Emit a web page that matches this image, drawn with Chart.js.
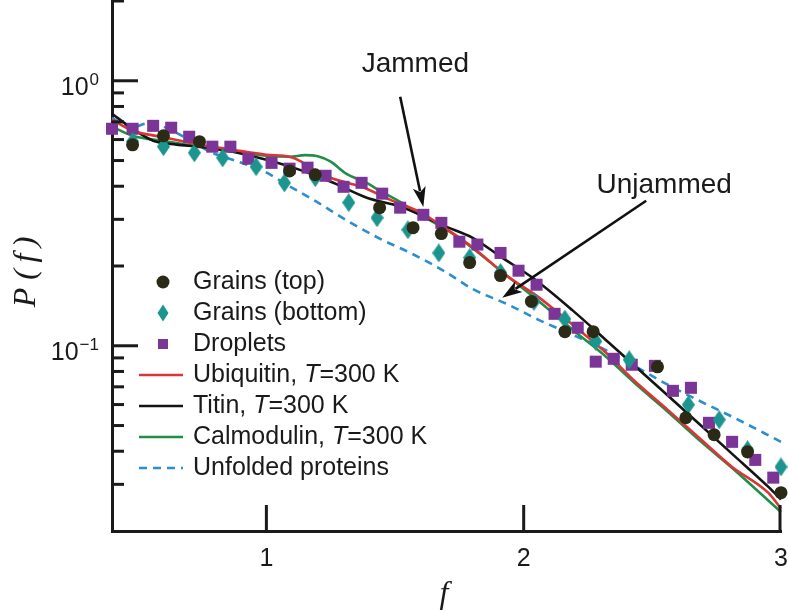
<!DOCTYPE html>
<html>
<head>
<meta charset="utf-8">
<script src="https://cdn.jsdelivr.net/npm/chart.js@4.4.1/dist/chart.umd.min.js"></script>
<style>
  body { margin: 0; background: #fff; }
  canvas { display: block; }
</style>
</head>
<body>
<canvas id="myChart" width="788" height="610"></canvas>
<script>
// values, f and P(f)
const xTicks = [1, 2, 3]
const yMajorTicks = [0.1, 1]
const yMajorExp = ['\u22121', '0']
const yMinorTicks = [0.03, 0.04, 0.05, 0.06, 0.07, 0.08, 0.09, 0.2, 0.3, 0.4, 0.5, 0.6, 0.7, 0.8, 0.9, 2]

const grainsTopF = [0.48, 0.60, 0.74, 1.09, 1.19, 1.44, 1.57, 1.68, 1.79, 1.91, 2.03, 2.16, 2.27, 2.52, 2.63, 2.74, 2.87, 3.0]
const grainsTopP = [0.573, 0.620, 0.589, 0.457, 0.442, 0.332, 0.279, 0.265, 0.206, 0.184, 0.147, 0.113, 0.113, 0.0833, 0.0535, 0.0462, 0.0398, 0.0279]

const grainsBottomF = [0.48, 0.60, 0.72, 0.83, 0.96, 1.07, 1.19, 1.32, 1.43, 1.55, 1.67, 1.79, 1.91, 2.04, 2.16, 2.28, 2.41, 2.64, 2.76, 2.87, 3.0]
const grainsBottomP = [0.589, 0.564, 0.535, 0.512, 0.474, 0.412, 0.431, 0.347, 0.304, 0.274, 0.224, 0.215, 0.189, 0.147, 0.126, 0.104, 0.0886, 0.0599, 0.0526, 0.0405, 0.0349]

const dropletsF = [0.40, 0.48, 0.56, 0.63, 0.70, 0.79, 0.86, 0.93, 1.02, 1.09, 1.16, 1.23, 1.30, 1.37, 1.45, 1.52, 1.61, 1.68, 1.75, 1.82, 1.91, 1.98, 2.05, 2.12, 2.21, 2.28, 2.35, 2.42, 2.51, 2.58, 2.65, 2.72, 2.81, 2.90, 2.97]
const dropletsP = [0.659, 0.659, 0.676, 0.665, 0.615, 0.564, 0.564, 0.508, 0.490, 0.466, 0.470, 0.438, 0.398, 0.412, 0.375, 0.332, 0.312, 0.291, 0.247, 0.241, 0.224, 0.192, 0.170, 0.132, 0.117, 0.0871, 0.0893, 0.0848, 0.0840, 0.0676, 0.0694, 0.0512, 0.0434, 0.0371, 0.0318]

const ubiquitinF = [0.40, 0.48, 0.59, 0.74, 0.87, 1.00, 1.09, 1.13, 1.19, 1.26, 1.37, 1.48, 1.60, 1.68, 1.80, 1.94, 2.06, 2.19, 2.32, 2.43, 2.56, 2.69, 2.81, 2.95, 3.0]
const ubiquitinP = [0.713, 0.648, 0.615, 0.574, 0.549, 0.526, 0.517, 0.499, 0.457, 0.427, 0.398, 0.356, 0.318, 0.284, 0.236, 0.182, 0.152, 0.120, 0.0941, 0.0738, 0.0573, 0.0442, 0.0349, 0.0279, 0.0243]

const titinF = [0.40, 0.48, 0.56, 0.65, 0.74, 0.87, 1.00, 1.13, 1.26, 1.39, 1.52, 1.70, 1.80, 1.91, 2.04, 2.19, 2.32, 2.43, 2.56, 2.69, 2.81, 2.95, 3.0]
const titinP = [0.751, 0.659, 0.594, 0.574, 0.564, 0.540, 0.503, 0.461, 0.412, 0.362, 0.335, 0.281, 0.256, 0.217, 0.179, 0.136, 0.105, 0.0843, 0.0649, 0.0499, 0.0391, 0.0294, 0.0263]

const calmodulinF = [0.40, 0.48, 0.62, 0.74, 0.87, 1.00, 1.09, 1.15, 1.20, 1.25, 1.31, 1.39, 1.44, 1.52, 1.57, 1.70, 1.80, 1.94, 2.06, 2.19, 2.32, 2.43, 2.56, 2.69, 2.81, 3.0]
const calmodulinP = [0.671, 0.620, 0.589, 0.564, 0.540, 0.521, 0.517, 0.524, 0.519, 0.495, 0.446, 0.412, 0.385, 0.349, 0.323, 0.274, 0.234, 0.182, 0.147, 0.115, 0.0909, 0.0725, 0.0564, 0.0434, 0.0346, 0.0236]

const unfoldedF = [0.40, 0.47, 0.55, 0.60, 0.65, 0.72, 0.78, 0.89, 0.98, 1.08, 1.19, 1.32, 1.45, 1.56, 1.70, 1.80, 1.94, 2.06, 2.19, 2.30, 2.43, 2.56, 2.69, 2.81, 3.0]
const unfoldedP = [0.725, 0.665, 0.694, 0.671, 0.637, 0.583, 0.540, 0.495, 0.461, 0.405, 0.352, 0.294, 0.251, 0.224, 0.189, 0.164, 0.143, 0.125, 0.110, 0.0983, 0.0840, 0.0713, 0.0615, 0.0540, 0.0434]

// annotation texts with anchor (f, P) and arrow from/to (f, P)
const notes = [
  { text: 'Jammed', at: [1.579, 1.081], from: [1.520, 0.870], to: [1.610, 0.334] },
  { text: 'Unjammed', at: [2.546, 0.378], from: [2.476, 0.3525], to: [1.9165, 0.1518] }
]

const pts = (f, p) => f.map((v, i) => ({ x: v, y: p[i] }))

const topColor = '#2b2a17'
const bottomColor = '#1c958f'
const dropColor = '#7b3596'
const ubColor = '#dd3437'
const titinColor = '#141414'
const calColor = '#1f8f48'
const unfColor = '#2a8ed2'

function diamond(w, h, color) {
  const c = document.createElement('canvas')
  c.width = w
  c.height = h
  const g = c.getContext('2d')
  g.fillStyle = color
  g.beginPath()
  g.moveTo(w / 2, 0)
  g.lineTo(w, h / 2)
  g.lineTo(w / 2, h)
  g.lineTo(0, h / 2)
  g.closePath()
  g.fill()
  return c
}

const marker = (color, style, radius) => ({
  showLine: false, pointStyle: style, pointRadius: radius, pointHoverRadius: radius,
  backgroundColor: color, borderColor: color, borderWidth: 0, clip: false, order: 0
})
const curve = (color, dash) => ({
  showLine: true, pointRadius: 0, borderColor: color, backgroundColor: color,
  borderWidth: 2.6, borderDash: dash, cubicInterpolationMode: 'monotone', clip: false, order: 1
})

const datasets = [
  { label: 'Grains (top)', data: pts(grainsTopF, grainsTopP), legend: 'circle', ...marker(topColor, 'circle', 6.5) },
  { label: 'Grains (bottom)', data: pts(grainsBottomF, grainsBottomP), legend: 'diamond', ...marker(bottomColor, diamond(13, 19, bottomColor), 7) },
  { label: 'Droplets', data: pts(dropletsF, dropletsP), legend: 'square', ...marker(dropColor, 'rect', 8.5) },
  { label: 'Ubiquitin, T=300 K', data: pts(ubiquitinF, ubiquitinP), legend: 'line', ...curve(ubColor, []) },
  { label: 'Titin, T=300 K', data: pts(titinF, titinP), legend: 'line', ...curve(titinColor, []) },
  { label: 'Calmodulin, T=300 K', data: pts(calmodulinF, calmodulinP), legend: 'line', ...curve(calColor, []) },
  { label: 'Unfolded proteins', data: pts(unfoldedF, unfoldedP), legend: 'dash', ...curve(unfColor, [8, 6]) }
]

const SANS = '"Liberation Sans", Arial, sans-serif'
const SERIF = '"Liberation Serif", "Times New Roman", serif'

function arrow(g, x1, y1, x2, y2) {
  const a = Math.atan2(y2 - y1, x2 - x1)
  const len = 20, half = 6.5
  const bx = x2 - len * Math.cos(a), by = y2 - len * Math.sin(a)
  g.strokeStyle = '#111'
  g.fillStyle = '#111'
  g.lineWidth = 2.6
  g.beginPath()
  g.moveTo(x1, y1)
  g.lineTo(bx + 4 * Math.cos(a), by + 4 * Math.sin(a))
  g.stroke()
  g.beginPath()
  g.moveTo(x2, y2)
  g.lineTo(bx - half * Math.sin(a), by + half * Math.cos(a))
  g.lineTo(bx + 5 * Math.cos(a), by + 5 * Math.sin(a))
  g.lineTo(bx + half * Math.sin(a), by - half * Math.cos(a))
  g.closePath()
  g.fill()
}

const figurePlugin = {
  id: 'figure',
  afterDraw(chart) {
    const g = chart.ctx
    const xs = chart.scales.x, ys = chart.scales.y
    const area = chart.chartArea
    g.save()
    g.strokeStyle = '#1a1a1a'
    g.lineWidth = 3
    g.lineCap = 'butt'
    // inward tick marks
    yMajorTicks.forEach(v => {
      const py = ys.getPixelForValue(v)
      g.beginPath(); g.moveTo(area.left, py); g.lineTo(area.left + 26, py); g.stroke()
    })
    yMinorTicks.forEach(v => {
      const py = ys.getPixelForValue(v)
      g.beginPath(); g.moveTo(area.left, py); g.lineTo(area.left + 12, py); g.stroke()
    })
    xTicks.forEach(v => {
      const px = Math.min(xs.getPixelForValue(v), area.right - 1)
      g.beginPath(); g.moveTo(px, area.bottom); g.lineTo(px, area.bottom - 26); g.stroke()
    })
    // tick labels
    g.fillStyle = '#1a1a1a'
    g.textBaseline = 'alphabetic'
    g.textAlign = 'center'
    g.font = '25px ' + SANS
    xTicks.forEach(v => g.fillText(String(v), xs.getPixelForValue(v), area.bottom + 35))
    yMajorTicks.forEach((v, i) => {
      const py = ys.getPixelForValue(v)
      const right = area.left - 13
      g.textAlign = 'right'
      g.font = '17px ' + SANS
      const w = g.measureText(yMajorExp[i]).width
      g.fillText(yMajorExp[i], right, py + 4)
      g.font = '25px ' + SANS
      g.fillText('10', right - w - 1, py + 14)
    })
    // axis titles
    g.font = 'italic 32px ' + SERIF
    g.textAlign = 'center'
    g.textBaseline = 'middle'
    g.fillText('f', xs.getPixelForValue(1.69), 595)
    g.save()
    g.translate(27, ys.getPixelForValue(0.19))
    g.rotate(-Math.PI / 2)
    g.fillText('P (\u2009f\u2009)', 0, 0)
    g.restore()
    // annotations
    g.textBaseline = 'alphabetic'
    g.font = '28px ' + SANS
    notes.forEach(n => {
      g.textAlign = 'center'
      g.fillStyle = '#1a1a1a'
      g.fillText(n.text, xs.getPixelForValue(n.at[0]), ys.getPixelForValue(n.at[1]))
      arrow(g, xs.getPixelForValue(n.from[0]), ys.getPixelForValue(n.from[1]),
        xs.getPixelForValue(n.to[0]), ys.getPixelForValue(n.to[1]))
    })
    // legend
    const lx = area.left + 27, ly = 282, step = 31
    chart.data.datasets.forEach((d, i) => {
      const y = ly + i * step
      const mx = lx + 24
      g.fillStyle = d.borderColor
      g.strokeStyle = d.borderColor
      if (d.legend === 'circle') {
        g.beginPath(); g.arc(mx, y, 6.5, 0, Math.PI * 2); g.fill()
      } else if (d.legend === 'diamond') {
        g.beginPath(); g.moveTo(mx, y - 8.5); g.lineTo(mx + 5.5, y); g.lineTo(mx, y + 8.5); g.lineTo(mx - 5.5, y); g.closePath(); g.fill()
      } else if (d.legend === 'square') {
        g.fillRect(mx - 5, y - 5, 10, 10)
      } else {
        g.lineWidth = 2.6
        g.setLineDash(d.legend === 'dash' ? [8, 6] : [])
        g.beginPath(); g.moveTo(lx, y); g.lineTo(lx + 44, y); g.stroke()
        g.setLineDash([])
      }
      // label, with T set in italic
      g.fillStyle = '#1a1a1a'
      g.textAlign = 'left'
      g.textBaseline = 'middle'
      let tx = lx + 54
      const parts = d.label.split('T=')
      parts.forEach((p, k) => {
        if (k > 0) {
          g.font = 'italic 25px ' + SANS
          g.fillText('T', tx, y)
          tx += g.measureText('T').width
          p = '=' + p
        }
        g.font = '25px ' + SANS
        g.fillText(p, tx, y)
        tx += g.measureText(p).width
      })
    })
    g.restore()
  }
}

const ctx = document.getElementById('myChart').getContext('2d')
new Chart(ctx, {
  type: 'scatter',
  data: { datasets: datasets },
  options: {
    responsive: false,
    animation: false,
    layout: { padding: { top: 1, right: 7, left: 0, bottom: 0 }, autoPadding: false },
    plugins: { legend: { display: false }, tooltip: { enabled: false } },
    scales: {
      x: {
        type: 'linear', min: 0.4, max: 3,
        grid: { display: false }, ticks: { display: false },
        border: { display: true, color: '#1a1a1a', width: 3 },
        afterFit: s => { s.height = 79 }
      },
      y: {
        type: 'logarithmic', min: 0.02, max: 2,
        grid: { display: false }, ticks: { display: false },
        border: { display: true, color: '#1a1a1a', width: 3 },
        afterFit: s => { s.width = 112 }
      }
    }
  },
  plugins: [figurePlugin]
})
</script>
</body>
</html>
